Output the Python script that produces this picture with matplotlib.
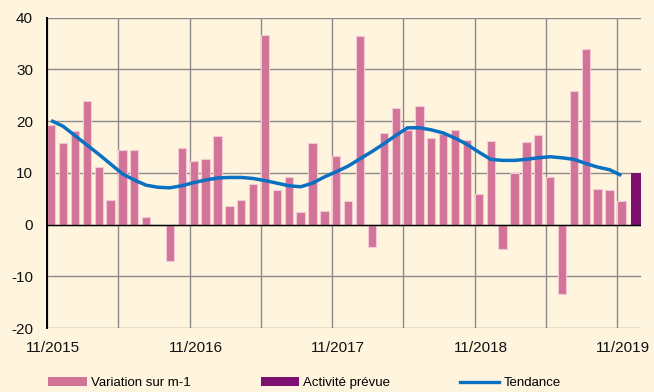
import matplotlib
matplotlib.use("Agg")
import matplotlib.pyplot as plt
import numpy as np
from matplotlib.patches import Patch
from matplotlib.lines import Line2D

# Monthly change (%), 11/2015 .. 11/2019
variation = [19.2, 15.7, 18.0, 23.9, 11.1, 4.8, 14.5, 14.5, 1.5, 0.0,
             -7.1, 14.8, 12.2, 12.7, 17.1, 3.6, 4.8, 7.8, 36.7, 6.6,
             9.2, 2.4, 15.7, 2.6, 13.3, 4.5, 36.5, -4.3, 17.7, 22.6,
             18.2, 22.9, 16.8, 17.5, 18.2, 16.4, 5.9, 16.1, -4.8, 10.0,
             15.9, 17.3, 9.1, -13.4, 25.9, 34.0, 6.8, 6.6, 4.5]

# Planned activity for the next month
activite_prevue = [10.0]

# Smoothed trend
tendance = [20.1, 19.0, 17.2, 15.4, 13.6, 11.7, 9.8, 8.6, 7.6, 7.2,
            7.1, 7.5, 8.1, 8.6, 9.0, 9.1, 9.1, 8.9, 8.5, 8.0,
            7.5, 7.3, 8.0, 9.2, 10.2, 11.3, 12.7, 14.1, 15.6, 17.2,
            18.7, 18.7, 18.3, 17.7, 16.7, 15.5, 14.0, 12.6, 12.4, 12.4,
            12.6, 12.9, 13.1, 12.9, 12.6, 11.8, 11.1, 10.6, 9.5]

tick_labels = ["11/2015", "11/2016", "11/2017", "11/2018", "11/2019"]

BG = "#FFF5DE"
PINK = "#D27398"
PINK_EDGE = "#F4C8D4"
PURPLE = "#7C0F70"
BLUE = "#0A70C2"
GRID = "#8A8A8A"

plt.rcParams["font.family"] = ["Liberation Sans", "DejaVu Sans"]
plt.rcParams["axes.unicode_minus"] = False

fig = plt.figure(figsize=(6.54, 3.92), dpi=100, facecolor=BG)
ax = fig.add_axes([47 / 654, 1 - 328 / 392, (641 - 47) / 654, (328 - 17.6) / 392])
ax.set_facecolor(BG)

months = np.arange(len(variation))
bar_w = 0.7

ax.bar(months, variation, width=bar_w, align="edge", color=PINK,
       edgecolor=PINK_EDGE, linewidth=0.8, zorder=3)
prev_x = np.arange(len(variation), len(variation) + len(activite_prevue))
ax.bar(prev_x + 0.2, activite_prevue, width=0.78, align="edge", color=PURPLE,
       linewidth=0, zorder=3)
ax.plot(months + bar_w / 2, tendance, color=BLUE, lw=2.5,
        solid_capstyle="butt", zorder=4)

ax.set_xlim(0, 50)
ax.set_ylim(-20, 40)
ax.set_yticks(np.arange(-20, 41, 10))

# grid at half-year boundaries, labels centred on each November
ax.set_xticks(np.arange(0, 49, 6))
ax.set_xticks(np.arange(0, 49, 12) + 0.5, minor=True)
ax.set_xticklabels([], minor=False)
ax.set_xticklabels(tick_labels, minor=True)
ax.tick_params(axis="x", which="both", length=0, pad=9, labelsize=11,
               colors="#111111")
ax.tick_params(axis="y", length=0, pad=10, labelsize=11, colors="#111111")

ax.grid(True, which="major", color=GRID, lw=1.0, zorder=1)
ax.axhline(0, color="black", lw=1.0, zorder=5)

for s in ("top", "right", "bottom"):
    ax.spines[s].set_visible(False)
ax.spines["left"].set_color("black")
ax.spines["left"].set_linewidth(1.4)
ax.spines["left"].set_zorder(6)

handles = [Patch(facecolor=PINK, edgecolor="none"),
           Patch(facecolor=PURPLE, edgecolor="none"),
           Line2D([], [], color=BLUE, lw=2.4)]
labels = ["Variation sur m-1", "Activité prévue", "Tendance"]
fig.legend(handles, labels, loc="center left",
           bbox_to_anchor=(48 / 654, 1 - 383 / 392), ncol=3, frameon=False,
           fontsize=9.5, handlelength=2.95, handleheight=0.7,
           handletextpad=0.3, columnspacing=5.3, borderpad=0,
           borderaxespad=0)

fig.savefig("out.png", dpi=100, facecolor=BG)
